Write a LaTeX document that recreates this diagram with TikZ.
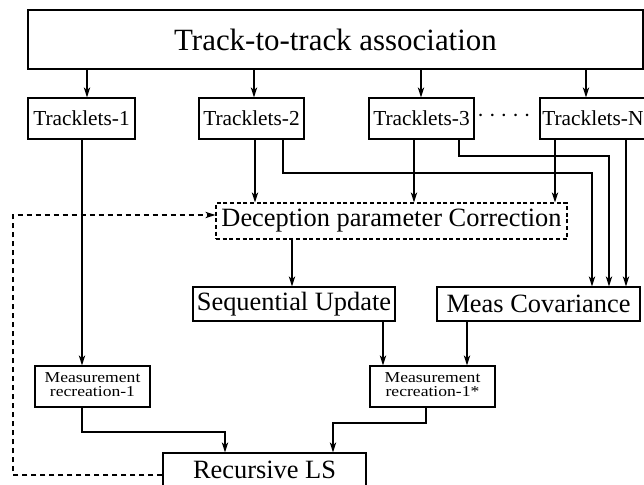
\documentclass[tikz,border=0pt]{standalone}
\usepackage{fontspec}
\setmainfont{Liberation Serif}
\usetikzlibrary{arrows.meta}
\begin{document}
\begin{tikzpicture}[x=0.75pt,y=-0.75pt,
  box/.style={draw, line width=0.9pt, inner sep=0pt, align=center},
  dbox/.style={box, dash pattern=on 3pt off 2pt},
  arr/.style={line width=0.9pt, -{Stealth[length=7.5pt,width=4.8pt,inset=2pt]}},
  darr/.style={arr, dash pattern=on 3.75pt off 3pt},
  bigfont/.style={font=\fontsize{23.2}{27}\selectfont},
  tfont/.style={font=\fontsize{16}{19}\selectfont},
  mfont/.style={font=\fontsize{19.8}{23}\selectfont},
  sfont/.style={font=\fontsize{13.2}{11}\selectfont}]
\useasboundingbox (0,0) rectangle (644,485);
% nodes
\node[box, bigfont, minimum width=461.25pt, minimum height=44.25pt] (top) at (335.5,39.5) {Track-to-track association};
\node[box, tfont, minimum width=80.25pt, minimum height=30.75pt] (T1) at (81.5,118.5) {Tracklets-1};
\node[box, tfont, minimum width=78.75pt, minimum height=30.75pt] (T2) at (251.5,118.5) {Tracklets-2};
\node[box, tfont, minimum width=78.75pt, minimum height=30.75pt] (T3) at (421.5,118.5) {Tracklets-3};
\node[box, tfont, minimum width=82.5pt, minimum height=30.75pt, text width=80pt, align=left] (TN) at (595,118.5) {\hspace{0.5pt}Tracklets-N};
\node[inner sep=0pt, tfont] (dots) at (504,118) {·\hspace{3.4pt}·\hspace{3.4pt}·\hspace{3.4pt}·\hspace{3.4pt}·};
\node[dbox, mfont, minimum width=263.25pt, minimum height=27pt] (dec) at (391.5,221) {Deception parameter Correction};
\node[box, mfont, minimum width=151.5pt, minimum height=25.5pt] (seq) at (294,304) {Sequential Update};
\node[box, mfont, minimum width=152.25pt, minimum height=25.5pt] (mc) at (538.5,304) {Meas Covariance};
\node[box, sfont, minimum width=86.25pt, minimum height=30.75pt] (mr1) at (92.5,386.5) {\scalebox{1}[0.86]{\begin{tabular}{@{}c@{}}Measurement\\[-0.5pt]recreation-1\end{tabular}}};
\node[box, sfont, minimum width=93.75pt, minimum height=30.75pt] (mr2) at (432.5,386.5) {\scalebox{1}[0.86]{\begin{tabular}{@{}c@{}}Measurement\\[-0.5pt]recreation-1*\end{tabular}}};
\node[box, mfont, minimum width=152.25pt, minimum height=25.5pt] (rls) at (264.5,470) {Recursive LS};
% column / row coordinates
\coordinate (a1) at (87,0);
\coordinate (a2) at (254,0);
\coordinate (a3) at (421,0);
\coordinate (a4) at (586,0);
\coordinate (l1) at (82,0);
\coordinate (l2a) at (255,0);
\coordinate (l2b) at (283,0);
\coordinate (l3a) at (414,0);
\coordinate (l3b) at (459,0);
\coordinate (lNa) at (555,0);
\coordinate (lNb) at (626,0);
\coordinate (m1) at (592,0);
\coordinate (m2) at (609,0);
\coordinate (ds) at (292,0);
\coordinate (s1) at (383,0);
\coordinate (s2) at (467,0);
\coordinate (r1) at (225,0);
\coordinate (r2) at (333,0);
\coordinate (mx) at (426,0);
\coordinate (xl) at (13,0);
\coordinate (h1) at (0,173);
\coordinate (h2) at (0,156);
\coordinate (h3) at (0,432);
\coordinate (h4) at (0,423);
\coordinate (yu) at (0,215);
\coordinate (yd) at (0,475);
% connectors
\draw[arr] (top.south -| a1) -- (T1.north -| a1);
\draw[arr] (top.south -| a2) -- (T2.north -| a2);
\draw[arr] (top.south -| a3) -- (T3.north -| a3);
\draw[arr] (top.south -| a4) -- (TN.north -| a4);
\draw[arr] (T1.south -| l1) -- (mr1.north -| l1);
\draw[arr] (T2.south -| l2a) -- (dec.north -| l2a);
\draw[arr] (T2.south -| l2b) -- (l2b |- h1) -- (m1 |- h1) -- (mc.north -| m1);
\draw[arr] (T3.south -| l3a) -- (dec.north -| l3a);
\draw[arr] (T3.south -| l3b) -- (l3b |- h2) -- (m2 |- h2) -- (mc.north -| m2);
\draw[arr] (TN.south -| lNa) -- (dec.north -| lNa);
\draw[arr] (TN.south -| lNb) -- (mc.north -| lNb);
\draw[arr] (dec.south -| ds) -- (seq.north -| ds);
\draw[arr] (seq.south -| s1) -- (mr2.north -| s1);
\draw[arr] (mc.south -| s2) -- (mr2.north -| s2);
\draw[arr] (mr1.south -| l1) -- (l1 |- h3) -- (r1 |- h3) -- (rls.north -| r1);
\draw[arr] (mr2.south -| mx) -- (mx |- h4) -- (r2 |- h4) -- (rls.north -| r2);
\draw[darr] (rls.west |- yd) -- (xl |- yd) -- (xl |- yu) -- (dec.west |- yu);
\end{tikzpicture}
\end{document}
